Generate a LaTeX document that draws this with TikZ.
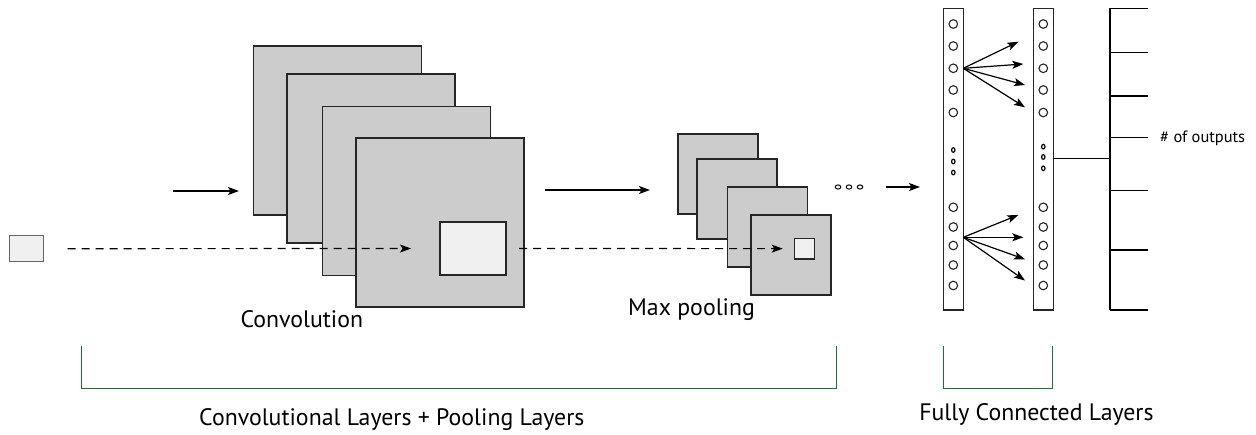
\documentclass[tikz,border=0pt]{standalone}
\usepackage{fontspec}
\setmainfont{PT Sans}
\usetikzlibrary{arrows.meta,shapes.geometric}
\definecolor{fmapgray}{HTML}{CCCCCC}
\definecolor{lightbox}{HTML}{F0F0F0}
\definecolor{bracketgreen}{RGB}{30,110,60}
\begin{document}
\begin{tikzpicture}[x=1pt,y=-1pt,
  fmap/.style={draw=black!85,line width=1.3pt,fill=fmapgray,inner sep=0,outer sep=0,anchor=north west},
  conv/.style={fmap,minimum width=168pt,minimum height=169pt},
  pool/.style={fmap,minimum width=80pt,minimum height=80pt},
  patch/.style={draw=black!85,line width=1.3pt,fill=lightbox,inner sep=0,outer sep=0,anchor=north west},
  fcbar/.style={draw=black!85,line width=1.3pt,fill=white,inner sep=0,outer sep=0,anchor=north west,minimum width=20pt,minimum height=301.7pt},
  neuron/.style={circle,draw=black!85,line width=1.1pt,fill=white,inner sep=0,minimum size=8.6pt},
  tinydot/.style={ellipse,draw=black,line width=1.2pt,inner sep=0,minimum width=3.4pt,minimum height=4.6pt},
  hdot/.style={ellipse,draw=black,line width=1pt,inner sep=0,minimum width=5.5pt,minimum height=4.2pt},
  arr/.style={line width=1.2pt,-{Stealth[length=11pt,width=8pt,inset=2.5pt]}},
  darr/.style={arr,dash pattern=on 8pt off 6pt},
  bracket/.style={draw=bracketgreen,line width=1.5pt},
  lbl/.style={font=\fontsize{23.8}{27}\selectfont,inner sep=0},
  outs/.style={line width=1.4pt}
]
\useasboundingbox (0,0) rectangle (1256,434);
\fill[white] (0,0) rectangle (1256,434);

% input patch
\node[patch,draw=black!60,minimum width=34pt,minimum height=26pt] (inp) at (9.6,235.7) {};

% convolution feature maps
\node[conv] (c1) at (253.6,46) {};
\node[conv] (c2) at (287,74) {};
\node[conv] (c3) at (322.5,106.5) {};
\node[conv] (c4) at (356,138) {};
\node[patch,minimum width=66pt,minimum height=53pt] (w1) at (440,222) {};
\node[lbl] (convlbl) at (301.8,319) {Convolution};

% pooling maps
\node[pool] (p1) at (678,134) {};
\node[pool] (p2) at (697,159) {};
\node[pool] (p3) at (727.5,187) {};
\node[pool] (p4) at (751,215) {};
\node[patch,minimum width=20.5pt,minimum height=20.7pt] (w2) at (794.3,238.3) {};
\node[lbl] (poollbl) at (691.5,310) {Max pooling};

% arrows
\coordinate (a1s) at (172.5,191);
\coordinate (a1e) at (239,191);
\draw[arr] (a1s) -- (a1e);
\coordinate (a2s) at (545,190);
\coordinate (a2e) at (650,190);
\draw[arr] (a2s) -- (a2e);
\coordinate (a3s) at (886,187);
\coordinate (a3e) at (920,187);
\draw[arr] (a3s) -- (a3e);
\draw[darr,shorten <=24pt,shorten >=29pt] (inp.east) -- (w1.west);
\draw[darr,shorten <=13pt,shorten >=11.6pt] (w1.east) -- (w2.west);

% ellipsis dots
\node[hdot] (h1) at (838,187) {};
\node[hdot] (h2) at (849,187) {};
\node[hdot] (h3) at (860,187) {};

% fully connected bars
\node[fcbar] (bar1) at (943.3,8.3) {};
\node[fcbar] (bar2) at (1033.3,8.3) {};
\foreach \i/\y in {1/24,2/46,3/68.3,4/90,5/112.5,6/207.3,7/227,8/245.5,9/265,10/285.5}{
  \node[neuron] (l1-\i) at (953.3,\y) {};
  \node[neuron] (l2-\i) at (1043.3,\y) {};
}
\foreach \i/\y in {1/150,2/161.5,3/172.5}{\node[tinydot] (va\i) at (953.3,\y) {};}
\foreach \i/\y in {1/146.7,2/157,3/168.3}{\node[tinydot] (vb\i) at (1043.3,\y) {};}

% fan-out arrows
\coordinate (fa) at (963.3,68.3);
\coordinate (fb) at (963.3,237.3);
\coordinate (ta1) at (1018.3,41.7);
\coordinate (ta2) at (1023.3,64);
\coordinate (ta3) at (1025,85);
\coordinate (ta4) at (1025,107.3);
\coordinate (tb1) at (1018.3,215);
\coordinate (tb2) at (1023.3,237.3);
\coordinate (tb3) at (1025,259.3);
\coordinate (tb4) at (1025,280.5);
\foreach \t in {ta1,ta2,ta3,ta4}{\draw[arr] (fa) -- (\t);}
\foreach \t in {tb1,tb2,tb3,tb4}{\draw[arr] (fb) -- (\t);}

% outputs
\coordinate (ojoin) at (1110,158.3);
\coordinate (otop) at (1110,8.3);
\coordinate (obot) at (1110,310);
\draw[outs] (bar2.east |- ojoin) -- (ojoin);
\draw[outs] (otop) -- (obot);
\foreach \i/\y in {1/8.3,2/52.3,3/96,4/137.7,5/190.7,6/250,7/310}{
  \coordinate (ot\i) at (1148.3,\y);
  \draw[outs] (1110,\y) -- (ot\i);
}
\node[inner sep=0,anchor=west,font=\fontsize{16.4}{19}\selectfont] (outlbl) at (1160,138) {\# of outputs};

% brackets
\draw[bracket] (81.4,346) -- (81.4,388.3) -- (836.5,388.3) -- (836.5,346);
\draw[bracket] (943.3,346) -- (943.3,388.3) -- (1052.4,388.3) -- (1052.4,346);
\node[lbl] (cplbl) at (391.8,420) {Convolutional Layers + Pooling Layers};
\node[lbl] (fclbl) at (1036.4,414) {Fully Connected Layers};
\end{tikzpicture}
\end{document}
